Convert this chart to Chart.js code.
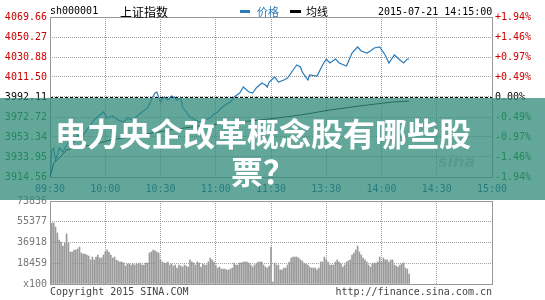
<!DOCTYPE html>
<html>
<head>
<meta charset="utf-8">
<script src="https://cdn.jsdelivr.net/npm/chart.js@4.4.1/dist/chart.umd.min.js"></script>
<style>
  body { margin: 0; width: 545px; height: 300px; overflow: hidden; position: relative; background: #fff; font-family: "DejaVu Sans Mono", monospace; }
  canvas { position: absolute; left: 0; }
  .txt { position: absolute; font-size: 10px; line-height: 12px; white-space: nowrap; }
  .mark { position: absolute; height: 3px; }
  #banner { position: absolute; left: 0; top: 98px; width: 545px; height: 102px; background: rgba(47, 137, 122, 0.75); }
  #title { position: absolute; left: 45px; top: 113px; width: 436px; text-align: center; color: #fff; font: bold 32px/38px "Noto Sans CJK SC", sans-serif; }
  #sina { position: absolute; left: 438px; top: 152px; font: italic bold 16px "DejaVu Sans", sans-serif; color: #cfcfcf; }
</style>
</head>
<body>
<canvas id="priceChart" width="545" height="200" style="top:0"></canvas>
<canvas id="volChart" width="545" height="110" style="top:190px"></canvas>

<div class="txt" style="left:50px;top:5px;color:#000">sh000001</div>
<div class="txt" style="left:120px;top:5px;font:12px/13px 'Noto Sans CJK SC',sans-serif;color:#000">上证指数</div>
<div class="mark" style="left:240px;top:10px;width:10px;background:#2b7bb9"></div>
<div class="txt" style="left:257px;top:5px;font:11px/13px 'Noto Sans CJK SC',sans-serif;color:#2b7bb9">价格</div>
<div class="mark" style="left:290px;top:10px;width:11px;background:#000"></div>
<div class="txt" style="left:306px;top:5px;font:11px/13px 'Noto Sans CJK SC',sans-serif;color:#000">均线</div>
<div class="txt" style="left:378px;top:6px;color:#000">2015-07-21 14:15:00</div>
<div class="txt" style="left:50px;top:286px;color:#444">Copyright 2015 SINA.COM</div>
<div class="txt" style="right:53px;top:286px;color:#444">http://finance.sina.com.cn</div>

<div id="sina">sina</div>
<div id="banner"></div>
<div id="title">电力央企改革概念股有哪些股票？</div>

<script>
// time axis: minutes from 09:30 (lunch break removed), 0..240
const timeLabels = ["09:30", "10:00", "10:30", "11:00", "11:30", "13:30", "14:00", "14:30", "15:00"]

const basePrice = 3992.11
const priceTicks = [4069.66, 4050.27, 4030.88, 4011.50, 3992.11, 3972.72, 3953.34, 3933.95, 3914.56]
const pctLabels = ["+1.94%", "+1.46%", "+0.97%", "+0.49%", "0.00%", "-0.49%", "-0.97%", "-1.46%", "-1.94%"]

// price line (minute, price)
const priceMinutes = [0, 1, 2, 3, 4, 5, 7, 9, 11, 13, 15, 17, 20, 22, 24, 27, 29, 31, 34, 37, 40, 42, 45, 48, 50, 53, 55, 57, 58, 60,
  61, 62, 64, 66, 67, 69, 71, 72, 74, 76, 79, 81, 84, 87, 89, 91, 93, 96, 98, 100, 103, 105, 108, 110, 112, 115, 117, 118, 119, 122,
  124, 127, 129, 132, 134, 136, 137, 140, 141, 145, 148, 150, 152, 155, 157, 161, 164, 167, 169, 172, 174, 176, 179, 182, 184, 187, 190, 192, 194, 195]
const prices = [3914.56, 3940.73, 3942.67, 3931.04, 3935.88, 3942.67, 3938.79, 3945.58, 3950.43, 3948.49, 3955.27, 3952.36, 3960.12, 3964.97, 3969.81, 3974.66, 3977.57, 3971.75, 3973.69, 3969.81, 3967.87, 3971.75, 3969.81, 3974.66, 3977.57, 3981.45, 3989.20, 3995.99, 3996.96, 3987.26,
  3990.17, 3992.11, 3989.20, 3993.08, 3992.11, 3989.20, 3991.14, 3982.42, 3977.57, 3972.72, 3969.81, 3967.87, 3969.81, 3971.75, 3975.63, 3977.57, 3981.45, 3985.32, 3987.26, 3992.11, 3995.99, 4001.80, 3996.96, 3995.99, 4000.83, 4005.68, 4003.74, 4001.80, 4006.65, 4011.50,
  4006.65, 4008.59, 4010.53, 4018.28, 4023.13, 4021.19, 4016.35, 4008.59, 4013.44, 4012.47, 4023.13, 4028.95, 4025.07, 4028.95, 4025.07, 4022.16, 4034.76, 4040.58, 4036.70, 4034.76, 4036.70, 4039.61, 4040.58, 4032.82, 4025.07, 4032.82, 4027.98, 4025.07, 4028.95, 4028.95]

// average line (minute, price)
const avgMinutes = [0, 2, 4, 9, 15, 23, 33, 49, 65, 81, 98, 119, 136, 152, 168, 186, 195]
const avgPrices = [3914.56, 3928.13, 3931.04, 3940.73, 3943.64, 3945.58, 3950.43, 3955.27, 3960.12, 3964.00, 3966.91, 3970.78, 3974.66, 3979.51, 3983.39, 3987.26, 3988.23]

// volume per minute, x100
const volTicks = [0, 18459, 36918, 55377, 73836]
const volumes = [73836, 54300, 54300, 50700, 45400, 39100, 37400, 33800, 36500, 44500,
  36500, 28500, 28500, 30200, 30200, 31100, 32900, 27600, 26700, 26700,
  25800, 24900, 21400, 24000, 21400, 24000, 25800, 23100, 23100, 25800,
  28500, 30200, 28500, 25800, 23100, 24000, 21400, 20500, 19600, 19600,
  18700, 16000, 17800, 17800, 16900, 17800, 16900, 17800, 17800, 18700,
  16900, 16900, 18700, 18700, 27600, 28500, 30200, 29400, 28500, 27600,
  21400, 19600, 18700, 18700, 19600, 16900, 17800, 16000, 16900, 14200,
  16900, 16000, 15100, 16900, 16000, 15100, 21400, 19600, 18700, 16900,
  19600, 18700, 15100, 17800, 16900, 16900, 19600, 23100, 21400, 19600,
  16900, 14200, 15100, 13300, 13300, 13300, 12500, 12500, 13300, 14200,
  18700, 16900, 16900, 18700, 18700, 19600, 19600, 19600, 18700, 16900,
  15100, 16900, 17800, 19600, 19600, 19600, 16900, 15100, 14200, 16000,
  32900, 1800, 18700, 16900, 16900, 12500, 12500, 14200, 14200, 16900,
  19600, 23100, 24000, 24000, 24000, 23100, 21400, 20500, 18700, 17800,
  16900, 15100, 14200, 14200, 14200, 12500, 14200, 19600, 19600, 24000,
  21400, 19600, 16900, 16900, 16900, 19600, 21400, 19600, 17800, 15100,
  16900, 19600, 20500, 21400, 25800, 27600, 30200, 33800, 28500, 25800,
  23100, 21400, 19600, 16900, 15100, 17800, 18700, 18700, 19600, 24000,
  19600, 23100, 21400, 21400, 19600, 21400, 21400, 16900, 16000, 15100,
  16900, 17800, 18700, 14200, 13300, 8900]

const gridColor = "#a0a0a0"
const monoFont = { family: "DejaVu Sans Mono", size: 10 }

// box around plot + dashed base line
const framePlugin = {
  id: "frame",
  beforeDatasetsDraw(chart, args, opts) {
    const { ctx, chartArea: a } = chart
    ctx.save()
    if (opts.base != null) {
      const y = Math.round(chart.scales.y.getPixelForValue(opts.base)) + 0.5
      ctx.strokeStyle = "#000"
      ctx.lineWidth = 1
      ctx.setLineDash([3, 2])
      ctx.beginPath()
      ctx.moveTo(a.left, y)
      ctx.lineTo(a.right, y)
      ctx.stroke()
      ctx.setLineDash([])
    }
    ctx.strokeStyle = "#999"
    ctx.lineWidth = 1
    ctx.strokeRect(Math.round(a.left) + 0.5, Math.round(a.top) + 0.5, Math.round(a.right - a.left), Math.round(a.bottom - a.top))
    ctx.restore()
  },
}

function xScale(showLabels) {
  return {
    type: "linear",
    min: 0,
    max: 240,
    offset: false,
    afterBuildTicks: (s) => { s.ticks = timeLabels.map((_, i) => ({ value: i * 30 })) },
    afterFit: (s) => { s.height = showLabels ? 23 : 0 },
    ticks: {
      display: showLabels,
      autoSkip: false,
      maxRotation: 0,
      padding: 6,
      color: "#0b4f8a",
      font: monoFont,
      callback: (v) => timeLabels[v / 30],
    },
    grid: { color: gridColor, drawTicks: false, offset: false },
    border: { display: false, dash: [1, 1] },
  }
}

const priceColor = (ctx) => {
  const v = ctx.tick.value
  if (v > basePrice + 0.001) return "#cc0000"
  if (v < basePrice - 0.001) return "#008000"
  return "#000"
}

new Chart(document.getElementById("priceChart"), {
  type: "line",
  data: {
    datasets: [
      {
        label: "均线",
        data: avgMinutes.map((m, i) => ({ x: m, y: avgPrices[i] })),
        borderColor: "#111",
        borderWidth: 1,
        pointRadius: 0,
        tension: 0,
      },
      {
        label: "价格",
        data: priceMinutes.map((m, i) => ({ x: m, y: prices[i] })),
        borderColor: "#2b7bb9",
        borderWidth: 1.2,
        pointRadius: 0,
        tension: 0,
      },
    ],
  },
  options: {
    responsive: false,
    animation: false,
    layout: { padding: { top: 17, bottom: 0, left: 0, right: 0 } },
    plugins: { legend: { display: false }, tooltip: { enabled: false }, frame: { base: basePrice } },
    scales: {
      x: xScale(true),
      y: {
        position: "left",
        min: priceTicks[priceTicks.length - 1],
        max: priceTicks[0],
        afterBuildTicks: (s) => { s.ticks = priceTicks.slice().reverse().map((v) => ({ value: v })) },
        afterFit: (s) => { s.width = 50 },
        ticks: { padding: 3, color: priceColor, font: monoFont, callback: (v) => v.toFixed(2) },
        grid: { color: gridColor, drawTicks: false },
        border: { display: false, dash: [1, 1] },
      },
      y2: {
        position: "right",
        min: priceTicks[priceTicks.length - 1],
        max: priceTicks[0],
        afterBuildTicks: (s) => { s.ticks = priceTicks.slice().reverse().map((v) => ({ value: v })) },
        afterFit: (s) => { s.width = 53 },
        ticks: { padding: 3, color: priceColor, font: monoFont, callback: (v) => pctLabels[priceTicks.indexOf(v)] },
        grid: { display: false, drawTicks: false },
        border: { display: false },
      },
    },
  },
  plugins: [framePlugin],
})

new Chart(document.getElementById("volChart"), {
  type: "bar",
  data: {
    datasets: [
      {
        label: "成交量",
        data: volumes.map((v, i) => ({ x: i, y: v })),
        backgroundColor: "#9a9a9a",
        barThickness: 1,
      },
    ],
  },
  options: {
    responsive: false,
    animation: false,
    layout: { padding: { top: 11, bottom: 16, left: 0, right: 53 } },
    plugins: { legend: { display: false }, tooltip: { enabled: false }, frame: {} },
    scales: {
      x: xScale(false),
      y: {
        position: "left",
        min: 0,
        max: volTicks[volTicks.length - 1],
        afterBuildTicks: (s) => { s.ticks = volTicks.map((v) => ({ value: v })) },
        afterFit: (s) => { s.width = 50 },
        ticks: { padding: 3, color: "#777", font: monoFont, callback: (v) => (v === 0 ? "x100" : String(v)) },
        grid: { color: gridColor, drawTicks: false },
        border: { display: false, dash: [1, 1] },
      },
    },
  },
  plugins: [framePlugin],
})
</script>
</body>
</html>
